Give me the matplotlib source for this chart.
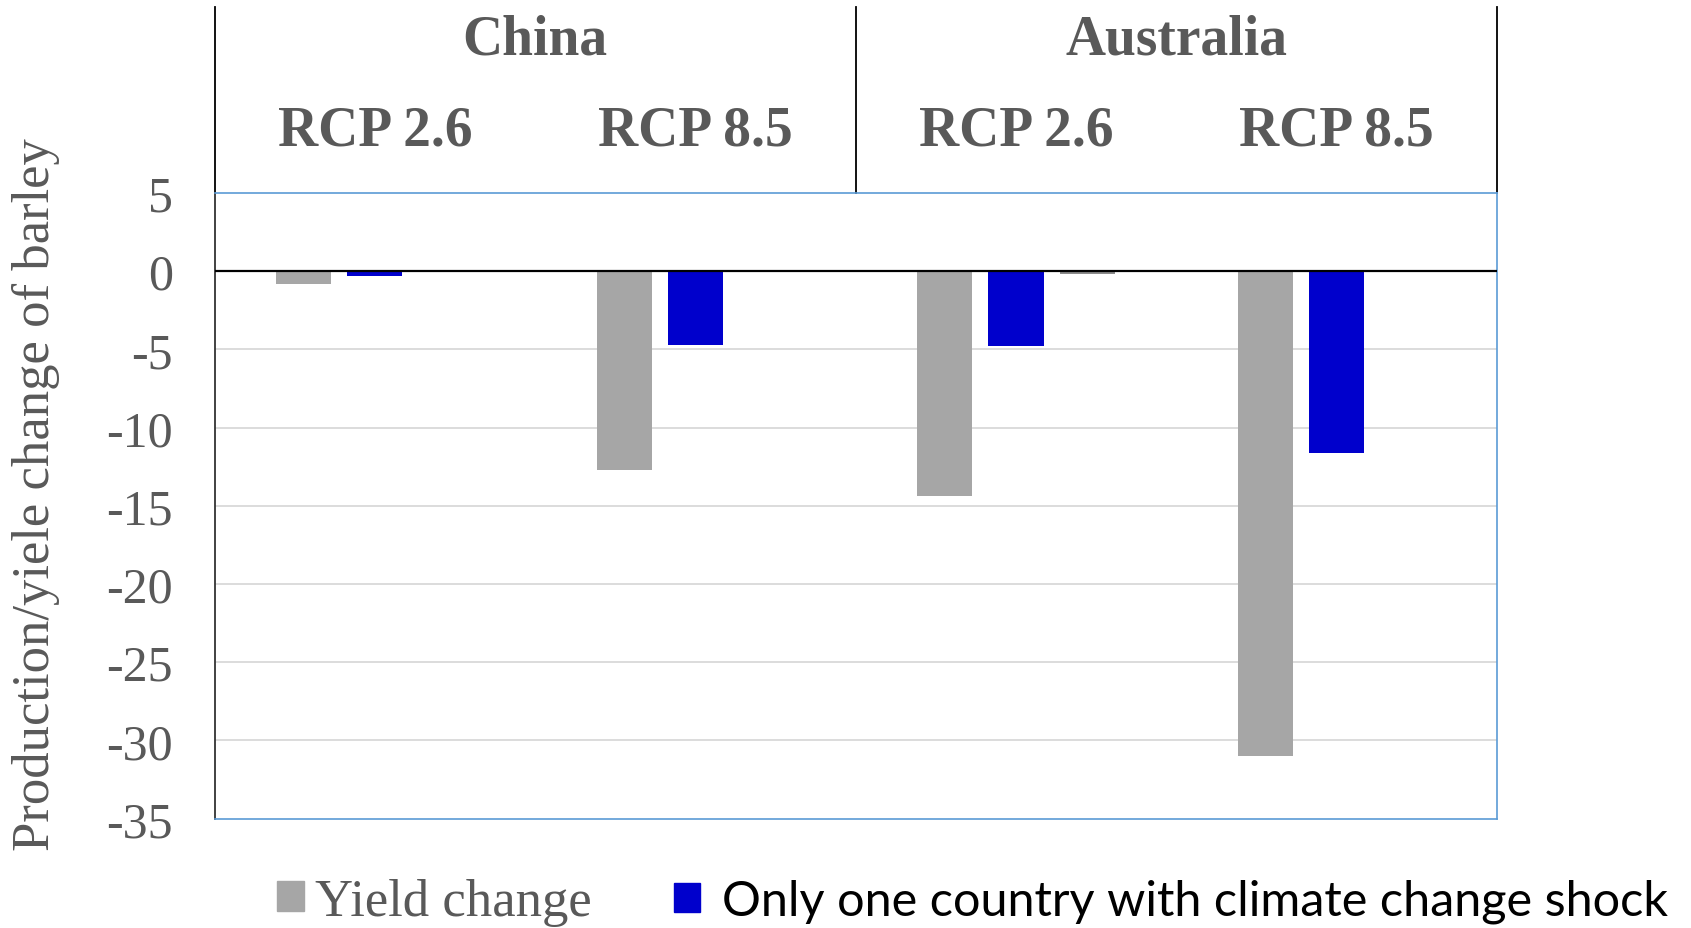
"""Barley production/yield change bar chart for China and Australia under RCP scenarios."""
import matplotlib.pyplot as plt
import matplotlib.transforms as mtransforms
from matplotlib.lines import Line2D
from matplotlib.patches import Patch
import numpy as np

countries = ["China", "Australia"]
scenarios = ["RCP 2.6", "RCP 8.5", "RCP 2.6", "RCP 8.5"]
yield_change = [-0.8, -12.7, -14.4, -31.0]
one_country_shock = [-0.3, -4.7, -4.8, -11.6]
other_series = [0.0, 0.0, -0.15, 0.0]
yticks = [5, 0, -5, -10, -15, -20, -25, -30, -35]

GREY = "#a6a6a6"
BLUE = "#0000cc"
TEXT = "#595959"
SERIF = "Liberation Serif"

plt.rcParams["axes.unicode_minus"] = False

fig = plt.figure(figsize=(16.91, 9.29), dpi=100)
ax = fig.add_axes([0.1269, 0.1178, 0.7583, 0.6734])

x = np.arange(len(scenarios))
width = 0.172
ax.bar(x - 0.222, yield_change, width, color=GREY, zorder=3)
ax.bar(x, one_country_shock, width, color=BLUE, zorder=3)
ax.bar(x + 0.222, other_series, width, color="#8c8c8c", zorder=3)

ax.set_xlim(-0.5, 3.5)
ax.set_ylim(-35, 5)
ax.set_yticks(yticks)
ax.set_xticks([])
ax.tick_params(axis="y", length=0, pad=30, labelsize=36, labelcolor=TEXT)
for lbl in ax.get_yticklabels():
    lbl.set_fontfamily(SERIF)

for v in yticks[2:-1]:
    ax.axhline(v, color="#d9d9d9", lw=1.3, zorder=1)
ax.axhline(0, color="black", lw=1.6, zorder=4)

for side in ["top", "right", "bottom"]:
    ax.spines[side].set_color("#5b9bd5")
    ax.spines[side].set_linewidth(1.2)
ax.spines["left"].set_color("#333333")
ax.spines["left"].set_linewidth(1.3)

fig.text(0.0215, 0.468, "Production/yiele change of barley", rotation=90,
         ha="center", va="center", fontsize=38, color=TEXT, family=SERIF)

# header block above the plot
trans = mtransforms.blended_transform_factory(ax.transData, fig.transFigure)
for cx, name in zip([0.5, 2.5], countries):
    ax.text(cx, 0.956, name, transform=trans, ha="center", va="center",
            fontsize=40, fontweight="bold", color=TEXT, family=SERIF)
for cx, name in zip(x, scenarios):
    ax.text(cx, 0.858, name, transform=trans, ha="center", va="center",
            fontsize=40, fontweight="bold", color=TEXT, family=SERIF)
for xv in [-0.5, 1.5, 3.5]:
    ax.add_line(Line2D([xv, xv], [0.7912, 0.991], transform=trans,
                       color="black", lw=1.3, clip_on=False))

# legend, two entries in different fonts
leg1 = fig.legend(handles=[Patch(color=GREY)], labels=["Yield change"],
                  loc="center left", bbox_to_anchor=(0.164, 0.028),
                  frameon=False, borderpad=0, borderaxespad=0,
                  handlelength=0.5, handleheight=0.5, handletextpad=0.22,
                  prop={"family": SERIF, "size": 38})
leg1.get_texts()[0].set_color(TEXT)
fig.legend(handles=[Patch(color=BLUE)],
           labels=["Only one country with climate change shock"],
           loc="center left", bbox_to_anchor=(0.3986, 0.029),
           frameon=False, borderpad=0, borderaxespad=0,
           handlelength=0.53, handleheight=0.53, handletextpad=0.45,
           prop={"family": "Lato", "size": 35})

fig.savefig("out.png", dpi=100)
plt.close(fig)
